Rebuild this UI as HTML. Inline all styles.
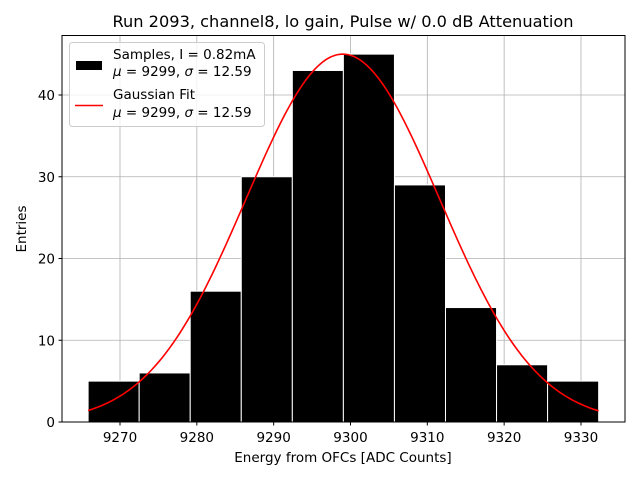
<!DOCTYPE html>
<html><head><meta charset="utf-8"><style>
body{margin:0;background:#fff}
svg{display:block;font-family:"DejaVu Sans","Liberation Sans",sans-serif}
</style></head><body>
<svg id="c" width="640" height="480" xmlns="http://www.w3.org/2000/svg">
<text x="343" y="27" font-size="16.2" text-anchor="middle">Run 2093, channel8, lo gain, Pulse w/ 0.0 dB Attenuation</text>
<g id="grid"></g>
<g id="bars"></g>
<path id="fit" fill="none" stroke="#ff0000" stroke-width="1.6"/>
<rect x="62" y="35.5" width="563" height="386.5" fill="none" stroke="#000" stroke-width="1"/>
<g id="ticks"></g>
<text x="343" y="462" font-size="13.5" text-anchor="middle">Energy from OFCs [ADC Counts]</text>
<text transform="translate(26,229) rotate(-90)" font-size="13.5" text-anchor="middle">Entries</text>
<g>
<rect x="69.5" y="42.5" width="195" height="84" rx="3" fill="#fff" fill-opacity="0.8" stroke="#ccc"/>
<rect x="76" y="61" width="26" height="9" fill="#000"/>
<text x="113" y="59" font-size="13.5">Samples, I = 0.82mA</text>
<text x="113" y="76" font-size="13.5"><tspan font-style="italic">μ</tspan> = 9299, <tspan font-style="italic">σ</tspan> = 12.59</text>
<line x1="75" y1="105.5" x2="103" y2="105.5" stroke="#ff0000" stroke-width="1.6"/>
<text x="113" y="99" font-size="13.5">Gaussian Fit</text>
<text x="113" y="117" font-size="13.5"><tspan font-style="italic">μ</tspan> = 9299, <tspan font-style="italic">σ</tspan> = 12.59</text>
</g>
</svg>
<script>
const counts=[5,6,16,30,43,45,29,14,7,5];
const binStart=9265.85, binEnd=9332.3;
const xTicks=[9270,9280,9290,9300,9310,9320,9330];
const yTicks=[0,10,20,30,40];
const fitMu=9299, fitSigma=12.59, fitAmp=45;
const NS="http://www.w3.org/2000/svg";
const X=v=>120+(v-9270)*7.683;
const Y=v=>422-v*8.175;
function mk(t,a,p){const e=document.createElementNS(NS,t);for(const k in a)e.setAttribute(k,a[k]);p.appendChild(e);return e;}
const grid=document.getElementById('grid'),ticks=document.getElementById('ticks'),bars=document.getElementById('bars');
xTicks.forEach(t=>{const x=X(t);
 const g=mk('line',{x1:x,x2:x,y1:35.5,y2:422,stroke:'#b0b0b0','stroke-width':0.8},grid);
 
 
 mk('line',{x1:x,x2:x,y1:422,y2:425.5,stroke:'#000'},ticks);
 const l=mk('text',{x:x,y:442,'font-size':13.5,'text-anchor':'middle'},ticks);l.textContent=t;
 
 
});
yTicks.forEach(t=>{const y=Y(t);
 const g=mk('line',{x1:62,x2:625,y1:y,y2:y,stroke:'#b0b0b0','stroke-width':0.8},grid);
 
 
 mk('line',{x1:58.5,x2:62,y1:y,y2:y,stroke:'#000'},ticks);
 const l=mk('text',{x:55,y:y+5,'font-size':13.5,'text-anchor':'end'},ticks);l.textContent=t;
 
 
});
const w=(binEnd-binStart)/counts.length;
counts.forEach((c,i)=>{const x0=X(binStart+i*w),x1=X(binStart+(i+1)*w);
 const r=mk('rect',{x:x0,y:Y(c),width:x1-x0,height:Y(0)-Y(c),fill:'#000',stroke:'#fff','stroke-width':1},bars);
 
 
});
let d='';for(let i=0;i<=200;i++){const v=binStart+(binEnd-binStart)*i/200;
 const f=fitAmp*Math.exp(-((v-fitMu)**2)/(2*fitSigma*fitSigma));
 d+=(i?'L':'M')+X(v).toFixed(2)+','+Y(f).toFixed(2);}
document.getElementById('fit').setAttribute('d',d);
</script>
</body></html>
